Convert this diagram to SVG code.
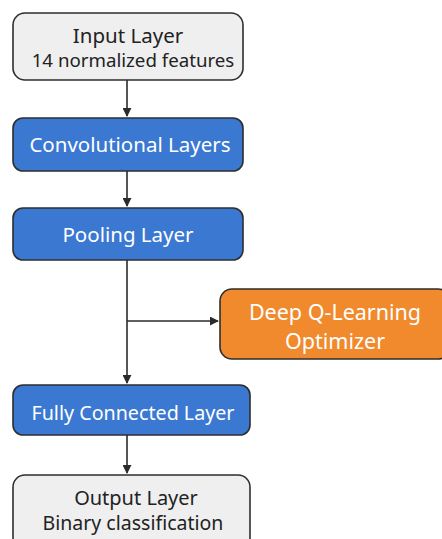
<svg xmlns="http://www.w3.org/2000/svg" width="442" height="539" viewBox="0 0 442 539">
<defs>
<marker id="ah" viewBox="0 0 10 10" refX="9" refY="5" markerWidth="9" markerHeight="9" markerUnits="userSpaceOnUse" orient="auto">
<path d="M0,0 L10,5 L0,10 z" fill="#2b2b2b"/>
</marker>
<style>
.box{stroke:#2e2e2e;stroke-width:1.6}
.gray{fill:#efefef}
.blue{fill:#3a78d2}
.orange{fill:#f08a2c}
.t{font-family:"Noto Sans","Open Sans",sans-serif;text-anchor:middle}
.dk{fill:#222}
.wt{fill:#ffffff}
.conn{stroke:#2b2b2b;stroke-width:1.6;fill:none}
</style>
</defs>
<rect width="442" height="539" fill="#ffffff"/>
<g id="connectors">
<line class="conn" x1="127" y1="80" x2="127" y2="116" marker-end="url(#ah)"/>
<line class="conn" x1="127" y1="171" x2="127" y2="206" marker-end="url(#ah)"/>
<line class="conn" x1="127" y1="260" x2="127" y2="383" marker-end="url(#ah)"/>
<line class="conn" x1="127" y1="321" x2="218" y2="321" marker-end="url(#ah)"/>
<line class="conn" x1="127" y1="435" x2="127" y2="473" marker-end="url(#ah)"/>
</g>
<g id="input">
<rect class="box gray" x="13" y="13" width="230" height="67" rx="12"/>
<text class="t dk" x="128" y="43" font-size="20.5">Input Layer</text>
<text class="t dk" x="133" y="67" font-size="18.7">14 normalized features</text>
</g>
<g id="conv">
<rect class="box blue" x="13" y="118" width="230" height="53" rx="10"/>
<text class="t wt" x="130" y="152" font-size="20.5">Convolutional Layers</text>
</g>
<g id="pool">
<rect class="box blue" x="13" y="208" width="230" height="52" rx="10"/>
<text class="t wt" x="128" y="242" font-size="20.5">Pooling Layer</text>
</g>
<g id="dql">
<rect class="box orange" x="220" y="289" width="230" height="70" rx="12"/>
<text class="t wt" x="335" y="320" font-size="21.5">Deep Q-Learning</text>
<text class="t wt" x="335" y="349" font-size="21.5">Optimizer</text>
</g>
<g id="fc">
<rect class="box blue" x="13" y="385" width="237" height="50" rx="10"/>
<text class="t wt" x="133" y="420" font-size="19.7">Fully Connected Layer</text>
</g>
<g id="output">
<rect class="box gray" x="13" y="475" width="237" height="75" rx="12"/>
<text class="t dk" x="136" y="505" font-size="20">Output Layer</text>
<text class="t dk" x="133" y="530" font-size="19.5">Binary classification</text>
</g>
</svg>
